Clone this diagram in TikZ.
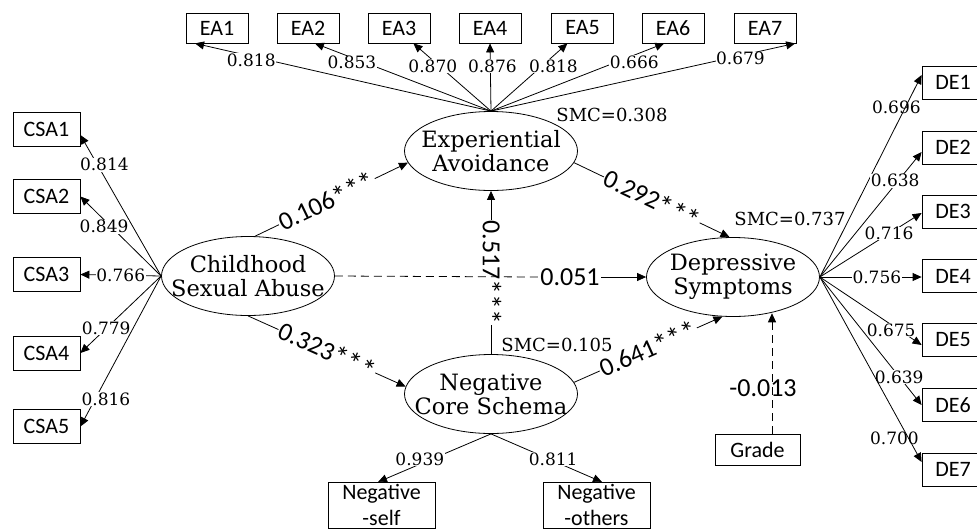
\documentclass[tikz,border=0pt]{standalone}
\usepackage{fontspec}
\setmainfont{DejaVu Serif}
\newfontfamily\calibri{Carlito}
\usetikzlibrary{arrows.meta,shapes.geometric,calc}

\newcommand{\stars}{\raisebox{-2.5pt}{\scalebox{1.15}{***}}}

\tikzset{
  latent/.style={draw, ellipse, inner sep=0pt, minimum width=173pt, minimum height=79pt},
  lattext/.style={align=center, inner sep=0pt, font=\fontsize{22.5}{24}\selectfont},
  obs/.style={draw, rectangle, inner sep=0pt, align=center, font=\calibri\fontsize{22}{26}\selectfont},
  eabox/.style={obs, minimum width=62pt, minimum height=30pt},
  csabox/.style={obs, minimum width=67pt, minimum height=34pt},
  debox/.style={obs, minimum width=62pt, minimum height=33pt},
  load/.style={fill=white, inner sep=0.5pt, font=\fontsize{17}{17}\selectfont},
  coef/.style={fill=white, inner sep=1pt, font=\calibri\fontsize{26}{26}\selectfont},
  smc/.style={inner sep=0pt, font=\fontsize{18}{18}\selectfont},
  arr/.style={-{Triangle[length=9pt,width=8pt]}},
  dashline/.style={dash pattern=on 8pt off 5pt}
}

\begin{document}
\begin{tikzpicture}[x=1pt, y=-1pt, line width=0.8pt]
\useasboundingbox (0,0) rectangle (977,528);

\node[eabox] (ea1) at (217,28) {EA1};
\node[eabox] (ea2) at (308,28) {EA2};
\node[eabox] (ea3) at (399,28) {EA3};
\node[eabox] (ea4) at (490,28) {EA4};
\node[eabox] (ea5) at (582.5,28) {EA5};
\node[eabox] (ea6) at (673,28) {EA6};
\node[eabox] (ea7) at (765,28) {EA7};

\node[csabox] (csa1) at (46.5,129.5) {CSA1};
\node[csabox] (csa2) at (46.5,196.5) {CSA2};
\node[csabox] (csa3) at (46.5,274.5) {CSA3};
\node[csabox] (csa4) at (46.5,353) {CSA4};
\node[csabox] (csa5) at (46.5,426.5) {CSA5};

\node[debox] (de1) at (953,82.5) {DE1};
\node[debox] (de2) at (953,147.5) {DE2};
\node[debox] (de3) at (953,211.5) {DE3};
\node[debox] (de4) at (953,276) {DE4};
\node[debox] (de5) at (953,340) {DE5};
\node[debox] (de6) at (953,405) {DE6};
\node[debox] (de7) at (953,469.5) {DE7};

\node[obs, minimum width=85pt, minimum height=31pt] (grade) at (757.5,449.5) {Grade};
\node[obs, anchor=north, minimum width=107pt, minimum height=46pt] (nself) at (381.5,482) {Negative\\-self};
\node[obs, anchor=north, minimum width=107pt, minimum height=46pt] (noth) at (596.5,482) {Negative\\-others};

\node[latent, label={[lattext]center:{Childhood\\Sexual Abuse}}] (csa) at (248,276) {};
\node[latent, label={[lattext]center:{Experiential\\Avoidance}}] (ea) at (491,151) {};
\node[latent, label={[lattext]center:{Negative\\Core Schema}}] (ncs) at (491,394) {};
\node[latent, label={[lattext]center:{Depressive\\Symptoms}}] (de) at (733,277) {};

\node[smc] (smcea) at (612,115) {SMC=0.308};
\node[smc] (smcde) at (790,219) {SMC=0.737};
\node[smc] (smcncs) at (557,345) {SMC=0.105};

\draw[arr] (ea.north) -- node[load, pos=0.81, yshift=-4pt] {0.818} ($(ea1.south west)!0.15!(ea1.south east)$);
\draw[arr] (ea.north) -- node[load, pos=0.79, yshift=-5pt] {0.853} ($(ea2.south west)!0.61!(ea2.south east)$);
\draw[arr] (ea.north) -- node[load, pos=0.66, xshift=-7pt] {0.870} ($(ea3.south west)!0.73!(ea3.south east)$);
\draw[arr] (ea.north) -- node[load, pos=0.66, xshift=2pt] {0.876} (ea4.south);
\draw[arr] (ea.north) -- node[load, pos=0.66, xshift=12pt] {0.818} ($(ea5.south west)!0.26!(ea5.south east)$);
\draw[arr] (ea.north) -- node[load, pos=0.81, xshift=3pt, yshift=-6pt] {0.666} ($(ea6.south west)!0.36!(ea6.south east)$);
\draw[arr] (ea.north) -- node[load, pos=0.82, yshift=-3pt] {0.679} ($(ea7.south west)!0.98!(ea7.south east)$);

\draw[arr] (csa.west) -- node[load, pos=0.79, xshift=7pt] {0.814} ([yshift=-5.5pt]csa1.east);
\draw[arr] (csa.west) -- node[load, pos=0.62, xshift=-7pt] {0.849} (csa2.east);
\draw[arr] (csa.west) -- node[load, pos=0.5] {0.766} (csa3.east);
\draw[arr] (csa.west) -- node[load, pos=0.68] {0.779} (csa4.east);
\draw[arr] (csa.west) -- node[load, pos=0.82, xshift=11pt] {0.816} (csa5.east);

\draw[arr] (de.east) -- node[load, fill=none, pos=0.84, xshift=-9pt] {0.696} ([yshift=7.5pt]de1.west);
\draw[arr] (de.east) -- node[load, pos=0.77, xshift=-3pt] {0.638} ([yshift=-4.5pt]de2.west);
\draw[arr] (de.east) -- node[load, pos=0.68] {0.716} ([yshift=-1.5pt]de3.west);
\draw[arr] (de.east) -- node[load, pos=0.56] {0.756} ([yshift=-1pt]de4.west);
\draw[arr] (de.east) -- node[load, pos=0.78, xshift=-8pt] {0.675} ([yshift=-5pt]de5.west);
\draw[arr] (de.east) -- node[load, pos=0.78] {0.639} (de6.west);
\draw[arr] (de.east) -- node[load, fill=none, pos=0.87, xshift=-14pt] {0.700} ([yshift=7.5pt]de7.west);

\draw[arr] (ncs.south) -- node[load, pos=0.63, yshift=5pt] {0.939} ([xshift=-3.5pt]nself.north);
\draw[arr] (ncs.south) -- node[load, pos=0.56, yshift=2pt] {0.811} ([xshift=5.5pt]noth.north);

\draw[arr] (csa.80) -- node[coef, sloped, pos=0.47] {0.106\stars} (ea.188);
\draw[arr] (csa.south) -- node[coef, sloped] {0.323\stars} (ncs.175);
\draw[arr] (ea.-8) -- node[coef, sloped] {0.292\stars} (de.95);
\draw[arr] (ncs.8) -- node[coef, sloped] {0.641\stars} (de.-105);
\draw[arr] (ncs.north) -- node[coef, rotate=-90] {0.517\stars} (ea.south);

\node[coef] (c051) at (570,277) {0.051};
\draw[dashline] (csa.east) -- (c051.west);
\draw[arr] (c051.east) -- (de.west);

\coordinate (gtop) at ([xshift=14.5pt]grade.north);
\draw[arr, dashline] (gtop) -- node[coef, fill=none, pos=0.38, xshift=-9pt] {-0.013} (gtop |- de.-45);
\end{tikzpicture}
\end{document}
